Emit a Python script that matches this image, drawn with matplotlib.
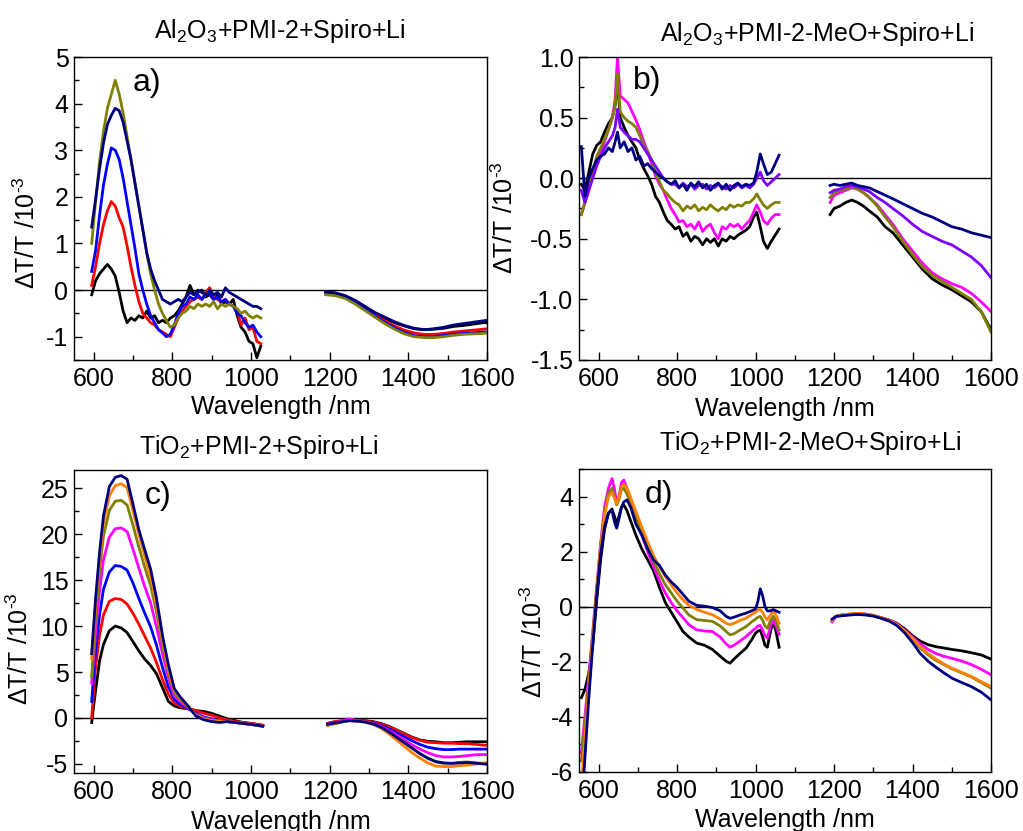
import matplotlib
matplotlib.use("Agg")
import matplotlib.pyplot as plt
from matplotlib.ticker import MultipleLocator, FormatStrFormatter

plt.rcParams['font.family'] = ['Liberation Sans', 'DejaVu Sans']
plt.rcParams['mathtext.fontset'] = 'custom'
plt.rcParams['mathtext.rm'] = 'Liberation Sans'
plt.rcParams['mathtext.it'] = 'Liberation Sans:italic'
plt.rcParams['axes.unicode_minus'] = False

# ---------------- colours ----------------
C_BLACK = '#000000'
C_RED = '#ff0000'
C_BLUE = '#0000ff'
C_OLIVE = '#808000'
C_NAVY = '#000080'
C_MAGENTA = '#ff00ff'
C_ORANGE = '#ff8000'
C_VIOLET = '#8000ff'

# ---------------- panel a data ----------------
a_vis_nm = list(range(595, 1030, 10))
a_black_vis = [-0.1, 0.2, 0.35, 0.45, 0.55, 0.45, 0.3, -0.05, -0.45, -0.7,
               -0.6, -0.65, -0.55, -0.6, -0.45, -0.6, -0.55, -0.7, -0.65, -0.7,
               -0.6, -0.55, -0.45, -0.3, -0.15, 0.1, -0.1, -0.05, 0.0, -0.15,
               -0.1, -0.2, -0.1, -0.3, -0.25, -0.3, -0.2, -0.55, -0.8, -0.9,
               -1.1, -1.15, -1.45, -1.2]
a_red_vis = [0.1, 0.5, 1.0, 1.4, 1.7, 1.9, 1.8, 1.55, 1.35, 0.95,
             0.5, 0.1, -0.25, -0.5, -0.6, -0.7, -0.75, -0.85, -0.9, -0.95,
             -1.0, -0.8, -0.6, -0.45, -0.35, -0.25, -0.2, -0.15, -0.2, -0.05,
             0.05, -0.15, -0.2, -0.25, -0.2, -0.3, -0.35, -0.45, -0.75, -0.6,
             -0.85, -0.8, -1.1, -1.15]
a_blue_vis = [0.4, 0.85, 1.6, 2.25, 2.7, 3.05, 3.0, 2.8, 2.4, 1.9,
              1.4, 0.9, 0.35, 0.0, -0.3, -0.55, -0.7, -0.85, -0.92, -1.0,
              -0.95, -0.75, -0.5, -0.35, -0.3, -0.15, -0.2, -0.1, -0.2, -0.1,
              -0.05, -0.2, -0.15, -0.25, -0.2, -0.3, -0.35, -0.5, -0.55, -0.7,
              -0.8, -0.75, -0.9, -1.0]
a_olive_vis = [1.0, 1.9, 2.75, 3.4, 3.9, 4.2, 4.5, 4.2, 3.8, 3.3,
               2.8, 2.3, 1.8, 1.3, 0.8, 0.35, 0.0, -0.3, -0.5, -0.65,
               -0.8, -0.75, -0.6, -0.5, -0.45, -0.35, -0.4, -0.3, -0.35, -0.3,
               -0.35, -0.25, -0.4, -0.3, -0.35, -0.3, -0.35, -0.4, -0.5, -0.45,
               -0.55, -0.6, -0.55, -0.6]
a_navy_vis = [1.35, 1.95, 2.6, 3.15, 3.55, 3.75, 3.9, 3.85, 3.6, 3.2,
              2.8, 2.3, 1.8, 1.3, 0.8, 0.45, 0.2, 0.0, -0.2, -0.25,
              -0.3, -0.25, -0.2, -0.25, -0.15, -0.05, -0.1, 0.0, -0.05, -0.1,
              0.0, -0.1, -0.05, -0.15, 0.05, -0.05, -0.1, -0.15, -0.2, -0.25,
              -0.3, -0.35, -0.35, -0.4]
a_nir_nm = [1190, 1215, 1240, 1265, 1290, 1315, 1340, 1365, 1390, 1415,
            1440, 1465, 1490, 1515, 1540, 1565, 1590, 1600]
a_black_nir = [-0.05, -0.08, -0.14, -0.24, -0.37, -0.5, -0.6, -0.7, -0.77, -0.83,
               -0.85, -0.84, -0.82, -0.78, -0.76, -0.73, -0.7, -0.7]
a_red_nir = [-0.08, -0.1, -0.16, -0.27, -0.4, -0.54, -0.66, -0.77, -0.86, -0.92,
             -0.95, -0.95, -0.93, -0.9, -0.88, -0.86, -0.84, -0.83]
a_blue_nir = [-0.06, -0.09, -0.15, -0.27, -0.41, -0.56, -0.69, -0.81, -0.91, -0.98,
              -1.0, -1.0, -0.97, -0.95, -0.93, -0.92, -0.9, -0.9]
a_olive_nir = [-0.1, -0.12, -0.18, -0.3, -0.44, -0.58, -0.72, -0.84, -0.94, -1.0,
               -1.02, -1.02, -1.0, -0.97, -0.95, -0.94, -0.93, -0.92]
a_navy_nir = [-0.03, -0.06, -0.12, -0.22, -0.35, -0.48, -0.58, -0.68, -0.76, -0.82,
              -0.85, -0.83, -0.8, -0.75, -0.72, -0.69, -0.66, -0.65]

# ---------------- panel b data ----------------
b_vis_nm = [556, 565, 575, 585, 595, 605, 615, 625, 635, 642,
            648, 655, 665, 675, 685, 695, 705, 715, 725, 735,
            745, 755, 765, 775, 785, 795, 805, 815, 825, 835,
            845, 855, 865, 875, 885, 895, 905, 915, 925, 935,
            945, 955, 965, 975, 985, 995, 1003, 1012, 1020, 1030,
            1040, 1050, 1060]
b_black_vis = [-0.05, -0.1, 0.05, 0.2, 0.27, 0.3, 0.38, 0.45, 0.5, 0.6,
               0.8, 0.5, 0.42, 0.35, 0.3, 0.25, 0.15, 0.08, 0.02, -0.05,
               -0.15, -0.2, -0.28, -0.35, -0.38, -0.42, -0.4, -0.48, -0.45, -0.52,
               -0.48, -0.5, -0.55, -0.5, -0.53, -0.5, -0.56, -0.5, -0.52, -0.48,
               -0.5, -0.47, -0.45, -0.43, -0.4, -0.32, -0.28, -0.4, -0.52, -0.58,
               -0.52, -0.47, -0.42]
b_magenta_vis = [-0.3, -0.2, -0.1, 0.05, 0.15, 0.22, 0.3, 0.4, 0.5, 0.65,
                 1.0, 0.68, 0.65, 0.62, 0.55, 0.48, 0.4, 0.3, 0.22, 0.12,
                 0.02, -0.05, -0.1, -0.18, -0.25, -0.3, -0.36, -0.35, -0.4, -0.38,
                 -0.42, -0.36, -0.44, -0.4, -0.38, -0.45, -0.5, -0.4, -0.42, -0.38,
                 -0.4, -0.38, -0.42, -0.38, -0.35, -0.28, -0.22, -0.28, -0.35, -0.38,
                 -0.33, -0.3, -0.3]
b_olive_vis = [-0.3, -0.2, -0.08, 0.05, 0.18, 0.25, 0.32, 0.4, 0.5, 0.6,
               0.86, 0.55, 0.5, 0.47, 0.45, 0.42, 0.35, 0.27, 0.22, 0.15,
               0.05, -0.03, -0.1, -0.13, -0.17, -0.2, -0.22, -0.27, -0.23, -0.25,
               -0.22, -0.27, -0.24, -0.26, -0.22, -0.25, -0.27, -0.24, -0.26, -0.22,
               -0.24, -0.22, -0.23, -0.2, -0.2, -0.17, -0.13, -0.18, -0.22, -0.25,
               -0.22, -0.2, -0.2]
b_violet_vis = [-0.1, -0.2, -0.1, 0.0, 0.1, 0.18, 0.25, 0.3, 0.35, 0.42,
                0.57, 0.42, 0.38, 0.35, 0.32, 0.32, 0.3, 0.25, 0.2, 0.15,
                0.1, 0.05, 0.0, -0.03, -0.05, -0.05, -0.08, -0.04, -0.07, -0.05,
                -0.09, -0.06, -0.05, -0.09, -0.06, -0.08, -0.05, -0.07, -0.09, -0.06,
                -0.08, -0.05, -0.08, -0.06, -0.08, -0.05, 0.0, 0.05, -0.02, -0.06,
                -0.03, 0.0, 0.03]
b_navy_vis = [0.26, -0.15, 0.0, 0.08, 0.15, 0.18, 0.2, 0.25, 0.22, 0.3,
              0.38, 0.25, 0.3, 0.22, 0.25, 0.15, 0.18, 0.1, 0.12, 0.08,
              0.05, 0.02, 0.0, -0.03, -0.05, -0.02, -0.08, -0.05, -0.1, -0.04,
              -0.07, -0.03, -0.08, -0.05, -0.1, -0.06, -0.04, -0.09, -0.05, -0.1,
              -0.06, -0.04, -0.07, -0.05, -0.06, -0.04, 0.05, 0.2, 0.12, 0.03,
              0.05, 0.12, 0.19]
b_nir_nm = [1190, 1200, 1215, 1230, 1245, 1260, 1275, 1290, 1310, 1330,
            1350, 1375, 1400, 1425, 1450, 1475, 1500, 1525, 1550, 1575, 1600]
b_black_nir = [-0.3, -0.25, -0.23, -0.2, -0.18, -0.2, -0.23, -0.27, -0.32, -0.4,
               -0.45, -0.55, -0.65, -0.75, -0.83, -0.88, -0.92, -0.97, -1.02, -1.1, -1.25]
b_magenta_nir = [-0.2, -0.14, -0.12, -0.1, -0.08, -0.09, -0.12, -0.16, -0.22, -0.3,
                 -0.38, -0.5, -0.6, -0.7, -0.78, -0.83, -0.87, -0.9, -0.95, -1.02, -1.1]
b_olive_nir = [-0.16, -0.12, -0.1, -0.09, -0.07, -0.09, -0.12, -0.16, -0.23, -0.32,
               -0.4, -0.52, -0.63, -0.73, -0.8, -0.85, -0.9, -0.95, -1.0, -1.1, -1.27]
b_violet_nir = [-0.12, -0.1, -0.09, -0.07, -0.06, -0.07, -0.09, -0.11, -0.16, -0.2,
                -0.25, -0.31, -0.38, -0.44, -0.48, -0.52, -0.55, -0.6, -0.65, -0.72, -0.82]
b_navy_nir = [-0.06, -0.05, -0.06, -0.05, -0.04, -0.06, -0.07, -0.08, -0.11, -0.14,
              -0.17, -0.21, -0.25, -0.29, -0.32, -0.36, -0.4, -0.42, -0.45, -0.47, -0.49]

# ---------------- panel c data ----------------
c_vis_nm = [595, 605, 615, 625, 640, 655, 670, 685, 700, 715,
            730, 745, 760, 775, 790, 805, 820, 840, 860, 880,
            900, 920, 940, 960, 980, 1000, 1015, 1030]
c_black_vis = [-0.5, 3.0, 6.2, 8.0, 9.5, 10.0, 9.8, 9.3, 8.3, 7.3,
               6.4, 5.7, 4.8, 3.3, 1.8, 1.3, 1.1, 1.0, 0.8, 0.7,
               0.5, 0.2, -0.1, -0.3, -0.5, -0.6, -0.7, -0.8]
c_red_vis = [0.0, 5.5, 9.0, 11.2, 12.7, 13.0, 12.9, 12.4, 11.4, 10.2,
             8.9, 7.6, 6.0, 4.2, 2.6, 1.6, 1.3, 1.0, 0.8, 0.5,
             0.3, 0.0, -0.2, -0.4, -0.5, -0.6, -0.7, -0.8]
c_blue_vis = [1.8, 7.3, 11.2, 14.0, 15.9, 16.6, 16.5, 16.1, 14.7, 13.0,
              11.4, 9.9, 7.9, 5.5, 3.4, 2.0, 1.5, 1.0, 0.5, 0.1,
              -0.1, -0.3, -0.4, -0.5, -0.6, -0.7, -0.8, -0.9]
c_magenta_vis = [3.8, 9.3, 13.8, 17.2, 19.7, 20.6, 20.7, 20.3, 18.4, 16.3,
                 14.3, 12.5, 9.9, 7.0, 4.4, 2.4, 1.8, 1.1, 0.4, 0.0,
                 -0.2, -0.3, -0.4, -0.5, -0.6, -0.7, -0.8, -0.9]
c_olive_vis = [4.5, 11.0, 16.0, 19.8, 22.6, 23.6, 23.7, 23.2, 21.0, 18.6,
               16.4, 14.4, 11.5, 8.0, 5.0, 2.8, 2.0, 1.2, 0.3, -0.1,
               -0.3, -0.4, -0.4, -0.5, -0.6, -0.7, -0.8, -0.9]
c_orange_vis = [6.5, 12.5, 17.3, 21.2, 24.2, 25.3, 25.5, 25.1, 22.6, 20.0,
                17.6, 15.4, 12.3, 8.6, 5.4, 3.0, 2.2, 1.3, 0.3, -0.1,
                -0.3, -0.4, -0.4, -0.5, -0.6, -0.7, -0.8, -0.9]
c_navy_vis = [7.0, 13.0, 18.0, 22.0, 25.2, 26.2, 26.4, 26.0, 23.3, 20.5,
              18.3, 16.2, 13.0, 9.0, 5.8, 3.2, 2.3, 1.3, 0.2, -0.2,
              -0.4, -0.5, -0.4, -0.5, -0.6, -0.7, -0.8, -0.9]
c_nir_nm = [1195, 1215, 1235, 1250, 1270, 1290, 1310, 1330, 1350, 1370,
            1390, 1410, 1430, 1450, 1470, 1490, 1510, 1530, 1550, 1575, 1600]
c_black_nir = [-0.6, -0.4, -0.3, -0.2, -0.3, -0.3, -0.4, -0.6, -0.9, -1.3,
               -1.7, -2.1, -2.4, -2.55, -2.6, -2.7, -2.7, -2.65, -2.6, -2.6, -2.6]
c_red_nir = [-0.6, -0.4, -0.3, -0.2, -0.3, -0.35, -0.45, -0.65, -0.95, -1.35,
             -1.75, -2.15, -2.45, -2.65, -2.7, -2.75, -2.75, -2.8, -2.8, -2.9, -3.0]
c_blue_nir = [-0.7, -0.5, -0.35, -0.25, -0.3, -0.4, -0.55, -0.8, -1.15, -1.6,
              -2.05, -2.5, -2.9, -3.2, -3.35, -3.45, -3.45, -3.4, -3.4, -3.4, -3.4]
c_magenta_nir = [-0.7, -0.5, -0.3, -0.1, -0.3, -0.4, -0.6, -0.9, -1.35, -1.85,
                 -2.4, -2.95, -3.4, -3.8, -4.1, -4.25, -4.25, -4.2, -4.1, -4.0, -4.0]
c_olive_nir = [-0.8, -0.6, -0.4, -0.3, -0.35, -0.45, -0.65, -1.0, -1.5, -2.1,
               -2.7, -3.3, -3.9, -4.4, -4.8, -4.95, -4.95, -4.85, -4.8, -4.9, -5.0]
c_orange_nir = [-0.8, -0.6, -0.4, -0.3, -0.35, -0.45, -0.7, -1.1, -1.7, -2.4,
                -3.1, -3.8, -4.4, -4.9, -5.25, -5.3, -5.3, -5.2, -5.15, -5.0, -4.85]
c_navy_nir = [-0.7, -0.55, -0.4, -0.3, -0.35, -0.45, -0.65, -1.0, -1.5, -2.1,
              -2.7, -3.3, -3.9, -4.4, -4.75, -4.9, -4.95, -4.9, -4.85, -4.95, -5.05]

# ---------------- panel d data ----------------
d_vis_nm = [556, 565, 575, 585, 595, 605, 615, 625, 634, 640,
            646, 652, 658, 664, 672, 682, 695, 710, 725, 740,
            755, 770, 785, 800, 815, 830, 850, 870, 890, 910,
            925, 935, 945, 960, 976, 990, 1000, 1006, 1012, 1018,
            1024, 1030, 1038, 1045, 1052, 1060]
d_black_vis = [-3.3, -3.0, -2.4, -1.4, 0.2, 1.7, 2.8, 3.4, 3.55, 3.3,
               3.0, 3.3, 3.6, 3.7, 3.5, 3.1, 2.6, 2.1, 1.7, 1.3,
               0.7, 0.15, -0.2, -0.55, -0.9, -1.1, -1.32, -1.4, -1.55, -1.8,
               -1.98, -2.05, -1.9, -1.7, -1.5, -1.2, -0.96, -0.88, -0.85, -1.1,
               -1.4, -1.47, -0.9, -0.53, -0.9, -1.47]
d_magenta_vis = [-5.3, -4.0, -2.5, -0.9, 0.7, 2.3, 3.6, 4.3, 4.65, 4.3,
                 3.75, 4.0, 4.5, 4.6, 4.3, 3.9, 3.3, 2.6, 2.0, 1.45,
                 0.95, 0.5, 0.15, -0.15, -0.4, -0.65, -0.84, -0.88, -0.9, -1.1,
                 -1.35, -1.47, -1.4, -1.25, -1.08, -0.9, -0.78, -0.7, -0.68, -0.85,
                 -1.05, -1.14, -0.7, -0.5, -0.7, -1.0]
d_olive_vis = [-5.6, -4.3, -2.7, -1.0, 0.6, 2.2, 3.4, 4.1, 4.3, 4.0,
               3.7, 3.9, 4.25, 4.3, 4.1, 3.75, 3.25, 2.7, 2.15, 1.65,
               1.2, 0.8, 0.5, 0.2, -0.05, -0.3, -0.47, -0.5, -0.53, -0.7,
               -0.9, -1.02, -0.98, -0.85, -0.72, -0.55, -0.45, -0.38, -0.35, -0.5,
               -0.7, -0.78, -0.5, -0.35, -0.5, -0.84]
d_orange_vis = [-6.5, -4.8, -3.0, -1.2, 0.5, 2.1, 3.3, 4.0, 4.15, 3.95,
                3.75, 4.0, 4.35, 4.45, 4.3, 3.95, 3.45, 2.9, 2.35, 1.85,
                1.45, 1.1, 0.8, 0.5, 0.25, 0.05, -0.1, -0.2, -0.29, -0.45,
                -0.6, -0.65, -0.6, -0.5, -0.41, -0.28, -0.2, -0.12, -0.1, -0.2,
                -0.38, -0.47, -0.3, -0.17, -0.3, -0.6]
d_navy_vis = [-7.5, -5.5, -3.3, -1.4, 0.4, 1.9, 2.9, 3.4, 3.5, 3.1,
              2.85, 3.2, 3.6, 3.8, 3.88, 3.6, 3.0, 2.6, 2.1, 1.7,
              1.5, 1.15, 0.9, 0.7, 0.45, 0.2, 0.05, 0.02, -0.03, -0.15,
              -0.35, -0.42, -0.38, -0.3, -0.23, -0.15, -0.08, 0.2, 0.65, 0.4,
              0.0, -0.15, -0.15, -0.1, -0.15, -0.2]
d_nir_nm = [1195, 1205, 1220, 1240, 1260, 1280, 1300, 1320, 1340, 1360,
            1380, 1400, 1420, 1440, 1460, 1480, 1500, 1525, 1550, 1575, 1600]
d_black_nir = [-0.5, -0.35, -0.3, -0.28, -0.27, -0.28, -0.32, -0.4, -0.48, -0.6,
               -0.8, -1.05, -1.25, -1.38, -1.45, -1.5, -1.55, -1.6, -1.67, -1.75, -1.9]
d_magenta_nir = [-0.55, -0.35, -0.3, -0.28, -0.25, -0.27, -0.32, -0.4, -0.48, -0.62,
                 -0.85, -1.1, -1.35, -1.55, -1.7, -1.8, -1.87, -1.97, -2.1, -2.27, -2.47]
d_olive_nir = [-0.5, -0.35, -0.3, -0.27, -0.25, -0.27, -0.32, -0.4, -0.5, -0.65,
               -0.88, -1.18, -1.5, -1.75, -1.95, -2.1, -2.25, -2.4, -2.55, -2.75, -2.95]
d_orange_nir = [-0.5, -0.35, -0.3, -0.26, -0.24, -0.26, -0.31, -0.4, -0.5, -0.64,
                -0.87, -1.15, -1.45, -1.7, -1.9, -2.08, -2.23, -2.38, -2.53, -2.72, -2.9]
d_navy_nir = [-0.45, -0.35, -0.33, -0.3, -0.28, -0.3, -0.34, -0.42, -0.52, -0.68,
              -0.95, -1.3, -1.7, -1.98, -2.2, -2.4, -2.59, -2.75, -2.9, -3.1, -3.38]

# ---------------- texts ----------------
titles = [r'Al$_2$O$_3$+PMI-2+Spiro+Li', r'Al$_2$O$_3$+PMI-2-MeO+Spiro+Li',
          r'TiO$_2$+PMI-2+Spiro+Li', r'TiO$_2$+PMI-2-MeO+Spiro+Li']
panel_tags = ['a)', 'b)', 'c)', 'd)']
xlabel = 'Wavelength /nm'
ylabel = r'$\Delta$T/T /10$^{\text{-3}}$'

# ---------------- figure ----------------
fig = plt.figure(figsize=(10.23, 8.31), dpi=100)
axes_rects = [[0.0723, 0.5668, 0.4037, 0.3646],
              [0.566, 0.5668, 0.4027, 0.3646],
              [0.0723, 0.0698, 0.4037, 0.3646],
              [0.566, 0.0710, 0.4027, 0.3646]]
ylims = [(-1.5, 5), (-1.5, 1.0), (-6, 27), (-6, 5)]
ymajor = [1, 0.5, 5, 2]
yminor = [0.5, 0.25, 2.5, 1]
title_pos = [(0.2737, 0.963), (0.7987, 0.959), (0.253, 0.4615), (0.792, 0.467)]
tag_pos = [(0.143, 0.914), (0.131, 0.92), (0.172, 0.914), (0.16, 0.914)]
ylab_pos = [(-0.082, 0.42), (-0.148, 0.47), (-0.099, 0.41), (-0.078, 0.43)]
xlab_y = [-0.115, -0.122, -0.122, -0.119]

series = [
    [(a_vis_nm, a_black_vis, a_nir_nm, a_black_nir, C_BLACK),
     (a_vis_nm, a_red_vis, a_nir_nm, a_red_nir, C_RED),
     (a_vis_nm, a_blue_vis, a_nir_nm, a_blue_nir, C_BLUE),
     (a_vis_nm, a_olive_vis, a_nir_nm, a_olive_nir, C_OLIVE),
     (a_vis_nm, a_navy_vis, a_nir_nm, a_navy_nir, C_NAVY)],
    [(b_vis_nm, b_black_vis, b_nir_nm, b_black_nir, C_BLACK),
     (b_vis_nm, b_magenta_vis, b_nir_nm, b_magenta_nir, C_MAGENTA),
     (b_vis_nm, b_olive_vis, b_nir_nm, b_olive_nir, C_OLIVE),
     (b_vis_nm, b_violet_vis, b_nir_nm, b_violet_nir, C_VIOLET),
     (b_vis_nm, b_navy_vis, b_nir_nm, b_navy_nir, C_NAVY)],
    [(c_vis_nm, c_black_vis, c_nir_nm, c_black_nir, C_BLACK),
     (c_vis_nm, c_red_vis, c_nir_nm, c_red_nir, C_RED),
     (c_vis_nm, c_blue_vis, c_nir_nm, c_blue_nir, C_BLUE),
     (c_vis_nm, c_magenta_vis, c_nir_nm, c_magenta_nir, C_MAGENTA),
     (c_vis_nm, c_olive_vis, c_nir_nm, c_olive_nir, C_OLIVE),
     (c_vis_nm, c_orange_vis, c_nir_nm, c_orange_nir, C_ORANGE),
     (c_vis_nm, c_navy_vis, c_nir_nm, c_navy_nir, C_NAVY)],
    [(d_vis_nm, d_black_vis, d_nir_nm, d_black_nir, C_BLACK),
     (d_vis_nm, d_magenta_vis, d_nir_nm, d_magenta_nir, C_MAGENTA),
     (d_vis_nm, d_olive_vis, d_nir_nm, d_olive_nir, C_OLIVE),
     (d_vis_nm, d_orange_vis, d_nir_nm, d_orange_nir, C_ORANGE),
     (d_vis_nm, d_navy_vis, d_nir_nm, d_navy_nir, C_NAVY)],
]

FS = 18
for i in range(4):
    ax = fig.add_axes(axes_rects[i])
    ax.axhline(0, color='black', lw=1.0, zorder=1)
    for xv, yv, xn, yn, col in series[i]:
        ax.plot(xv, yv, color=col, lw=2.0, solid_joinstyle='round', zorder=2)
        ax.plot(xn, yn, color=col, lw=2.0, solid_joinstyle='round', zorder=2)
    ax.set_xlim(550, 1600)
    ax.set_ylim(*ylims[i])
    ax.xaxis.set_major_locator(MultipleLocator(200))
    ax.xaxis.set_minor_locator(MultipleLocator(100))
    ax.yaxis.set_major_locator(MultipleLocator(ymajor[i]))
    ax.yaxis.set_minor_locator(MultipleLocator(yminor[i]))
    if i == 1:
        ax.yaxis.set_major_formatter(FormatStrFormatter('%.1f'))
    ax.tick_params(which='both', direction='in', top=False, right=False,
                   labelsize=FS, width=1.0)
    ax.tick_params(which='major', length=6)
    ax.tick_params(which='minor', length=3.5)
    ax.tick_params(axis='x', pad=5)
    ax.tick_params(axis='y', pad=4)
    for sp in ax.spines.values():
        sp.set_linewidth(1.0)
    ax.set_xlabel(xlabel, fontsize=FS)
    ax.xaxis.set_label_coords(0.5, xlab_y[i])
    ax.xaxis.label.set_va('top')
    ax.set_ylabel(ylabel, fontsize=FS)
    ax.yaxis.set_label_coords(*ylab_pos[i])
    ax.text(tag_pos[i][0], tag_pos[i][1], panel_tags[i], transform=ax.transAxes,
            fontsize=23, va='center', ha='left')
    fig.text(title_pos[i][0], title_pos[i][1], titles[i], fontsize=18,
             ha='center', va='center')

fig.savefig('out.png', dpi=100)
